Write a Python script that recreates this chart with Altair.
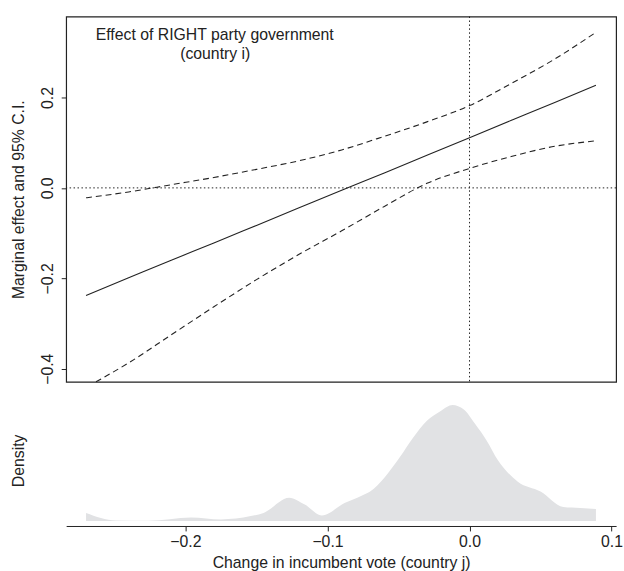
import altair as alt
import pandas as pd

# --- Marginal effect (top panel) ---
vote_change = [-0.27, -0.24, -0.21, -0.18, -0.15, -0.12, -0.09, -0.06, -0.03, 0.0, 0.03, 0.06, 0.089]
effect = [-0.238, -0.199, -0.160, -0.122, -0.083, -0.044, -0.005, 0.033, 0.072, 0.111, 0.150, 0.189, 0.227]
ci_upper = [-0.022, -0.009, 0.007, 0.023, 0.041, 0.060, 0.084, 0.114, 0.146, 0.182, 0.232, 0.285, 0.344]
# lower bound: visible part only (it leaves the panel at the bottom edge)
lower_x = [-0.263, -0.24, -0.21, -0.18, -0.15, -0.12, -0.09, -0.06, -0.03, 0.0, 0.03, 0.06, 0.089]
ci_lower = [-0.429, -0.387, -0.325, -0.263, -0.203, -0.147, -0.095, -0.041, 0.010, 0.043, 0.070, 0.092, 0.104]

# --- Density of the moderator (bottom panel) ---
dens_x = [-0.27, -0.249, -0.226, -0.196, -0.175, -0.154, -0.145, -0.127, -0.116, -0.104,
          -0.088, -0.076, -0.070, -0.049, -0.040, -0.030, -0.020, -0.012, -0.004, 0.004,
          0.012, 0.020, 0.034, 0.050, 0.066, 0.078, 0.089]
dens_y = [0.74, 0.06, 0.03, 0.33, 0.15, 0.45, 0.74, 2.12, 1.49, 0.51,
          1.63, 2.30, 2.68, 5.80, 7.50, 9.08, 10.00, 10.51, 10.10, 8.78,
          7.30, 5.51, 3.57, 2.68, 1.28, 1.19, 1.10]

xticks = [-0.2, -0.1, 0.0, 0.1]
yticks = [-0.4, -0.2, 0.0, 0.2]
ref_zero = [0.0]

title_line1 = "Effect of RIGHT party government"
title_line2 = "(country i)"

FONT = "Liberation Sans"
INK = "#222222"
FS = 16
W = 557

XDOM = [-0.284, 0.1032]
YDOM = [-0.429, 0.379]

df = pd.DataFrame({"x": vote_change, "effect": effect, "upper": ci_upper})
dl = pd.DataFrame({"x": lower_x, "lower": ci_lower})
dd = pd.DataFrame({"x": dens_x, "density": dens_y})
dz = pd.DataFrame({"zero": ref_zero})

xs = alt.Scale(domain=XDOM, nice=False, zero=False)
ys = alt.Scale(domain=YDOM, nice=False, zero=False)

solid = alt.Chart(df).mark_line(color=INK, strokeWidth=1.1, interpolate="monotone").encode(
    x=alt.X("x:Q", scale=xs, axis=None),
    y=alt.Y("effect:Q", scale=ys,
            axis=alt.Axis(values=yticks, format=".1f", labelAngle=270, labelAlign="center",
                          labelBaseline="bottom", tickSize=5, labelPadding=6, grid=False,
                          title="Marginal effect and 95% C.I.", titlePadding=13,
                          minExtent=27, maxExtent=27, domain=False)),
)
upper_l = alt.Chart(df).mark_line(color=INK, strokeWidth=1.1, strokeDash=[6, 4], interpolate="monotone").encode(
    x=alt.X("x:Q"), y=alt.Y("upper:Q"))
lower_l = alt.Chart(dl).mark_line(color=INK, strokeWidth=1.1, strokeDash=[6, 4], interpolate="monotone").encode(
    x=alt.X("x:Q"), y=alt.Y("lower:Q"))

vrule = alt.Chart(dz).mark_rule(color=INK, strokeWidth=1, strokeDash=[1.5, 2.5]).encode(x=alt.X("zero:Q"))
hrule = alt.Chart(dz).mark_rule(color=INK, strokeWidth=1, strokeDash=[1.5, 2.5]).encode(y=alt.Y("zero:Q"))

t1 = alt.Chart(dz).mark_text(text=title_line1, font=FONT, fontSize=FS, color=INK, align="center",
                             baseline="alphabetic").encode(x=alt.value(150.5), y=alt.value(23.3))
t2 = alt.Chart(dz).mark_text(text=title_line2, font=FONT, fontSize=FS, color=INK, align="center",
                             baseline="alphabetic").encode(x=alt.value(151), y=alt.value(43.3))

top = alt.layer(solid, upper_l, lower_l, hrule, vrule, t1, t2).properties(width=W, height=370)

area = alt.Chart(dd).mark_area(color="#e1e2e4", interpolate="monotone").encode(
    x=alt.X("x:Q", scale=xs,
            axis=alt.Axis(values=xticks, format=".1f", tickSize=5, labelPadding=3, grid=False,
                          offset=5, title="Change in incumbent vote (country j)", titlePadding=5,
                          domainColor=INK, tickColor=INK)),
    y=alt.Y("density:Q", scale=alt.Scale(domain=[0, 11], nice=False),
            axis=alt.Axis(title="Density", labels=False, ticks=False, domain=False, grid=False,
                          minExtent=27, maxExtent=27, titlePadding=13)),
)
bottom = area.properties(width=W, height=123, view=alt.ViewBackground(stroke="transparent"))

chart = alt.vconcat(top, bottom, spacing=13).properties(
    padding={"left": 10, "top": 11, "right": 0, "bottom": 8}
).configure(font=FONT).configure_view(stroke=INK, strokeWidth=1.2).configure_axis(
    labelFont=FONT, titleFont=FONT, labelFontSize=FS, titleFontSize=FS,
    labelColor=INK, titleColor=INK, titleFontWeight="normal", tickColor=INK, domainColor=INK
)

chart.save("out.html", embed_options={"renderer": "svg", "actions": False})
